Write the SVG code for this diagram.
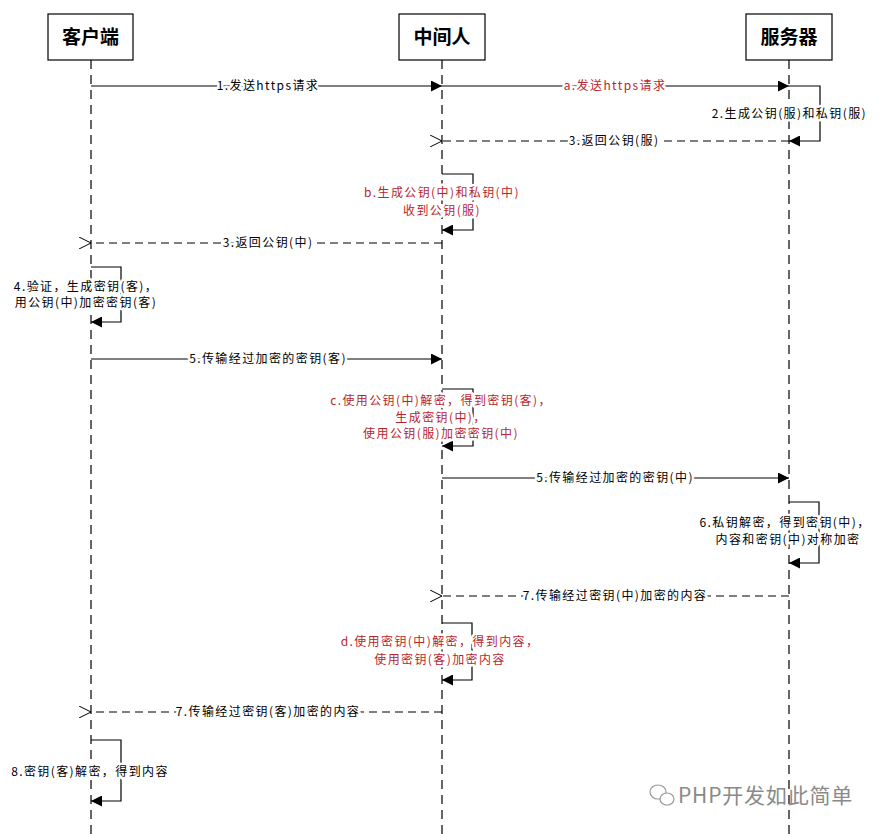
<svg xmlns="http://www.w3.org/2000/svg" width="882" height="834" viewBox="0 0 882 834">
<style>
.box{fill:#fff;stroke:#000;stroke-width:1.2}
.hdr{font-family:"Noto Sans CJK SC","Liberation Sans",sans-serif;font-size:19px;font-weight:bold;text-anchor:middle}
.life{stroke:#000;stroke-width:1.2;stroke-dasharray:9,6;fill:none}
.msg{stroke:#000;stroke-width:1.2;fill:none}
.ret{stroke:#000;stroke-width:1.2;stroke-dasharray:8,5;fill:none}
.lbl{font-family:"Noto Sans CJK SC","Liberation Sans",sans-serif;font-size:12px;letter-spacing:1.4px;fill:#000;text-anchor:middle;stroke:#fff;stroke-width:5;paint-order:stroke;stroke-linejoin:round}
.red{fill:#b8262c}
.wm{font-family:"Noto Sans CJK SC","Liberation Sans",sans-serif;font-size:21px;letter-spacing:0.8px;fill:#8a8a8a}
</style>
<defs>
<marker id="fa" viewBox="0 0 10 10" refX="10" refY="5" markerWidth="11" markerHeight="11" markerUnits="userSpaceOnUse" orient="auto"><path d="M0,0L10,5L0,10z" fill="#000"/></marker>
<marker id="oa" viewBox="0 0 12 12" refX="0" refY="6" markerWidth="12" markerHeight="12" markerUnits="userSpaceOnUse" orient="auto"><path d="M12,0L0,6L12,12" fill="none" stroke="#000" stroke-width="1"/></marker>
</defs>
<rect width="882" height="834" fill="#fff"/>
<g id="lifelines">
<line class="life" x1="91" y1="60" x2="91" y2="834"/>
<line class="life" x1="442" y1="60" x2="442" y2="834"/>
<line class="life" x1="789" y1="60" x2="789" y2="834"/>
</g>
<g id="client"><rect class="box" x="48" y="14" width="85" height="46"/><text class="hdr" x="90.5" y="44">客户端</text></g>
<g id="mitm"><rect class="box" x="399" y="14" width="86" height="46"/><text class="hdr" x="442" y="44">中间人</text></g>
<g id="server"><rect class="box" x="746" y="14" width="86" height="46"/><text class="hdr" x="789" y="44">服务器</text></g>
<g id="connectors">
<line class="msg" x1="91" y1="86" x2="442" y2="86" marker-end="url(#fa)"/>
<line class="msg" x1="442" y1="86" x2="789" y2="86" marker-end="url(#fa)"/>
<polyline class="msg" points="789,86 820,86 820,141 789,141" marker-end="url(#fa)"/>
<line class="ret" x1="789" y1="141" x2="442" y2="141" marker-end="url(#oa)"/>
<polyline class="msg" points="442,174 473,174 473,230 442,230" marker-end="url(#fa)"/>
<line class="ret" x1="442" y1="243" x2="91" y2="243" marker-end="url(#oa)"/>
<polyline class="msg" points="91,267 121,267 121,322 91,322" marker-end="url(#fa)"/>
<line class="msg" x1="91" y1="359" x2="442" y2="359" marker-end="url(#fa)"/>
<polyline class="msg" points="442,389 473,389 473,446 442,446" marker-end="url(#fa)"/>
<line class="msg" x1="442" y1="478" x2="789" y2="478" marker-end="url(#fa)"/>
<polyline class="msg" points="789,502 819,502 819,563 789,563" marker-end="url(#fa)"/>
<line class="ret" x1="789" y1="596" x2="442" y2="596" marker-end="url(#oa)"/>
<polyline class="msg" points="442,623 472,623 472,680 442,680" marker-end="url(#fa)"/>
<line class="ret" x1="442" y1="712" x2="91" y2="712" marker-end="url(#oa)"/>
<polyline class="msg" points="91,740 121,740 121,801 91,801" marker-end="url(#fa)"/>
</g>
<g id="labels">
<text class="lbl" x="268" y="90">1.发送https请求</text>
<text class="lbl red" x="615" y="90">a.发送https请求</text>
<text class="lbl" x="867" y="118" style="text-anchor:end">2.生成公钥(服)和私钥(服)</text>
<text class="lbl" x="614" y="145">3.返回公钥(服)</text>
<text class="lbl red" x="442" y="197">b.生成公钥(中)和私钥(中)</text>
<text class="lbl red" x="442" y="215">收到公钥(服)</text>
<text class="lbl" x="268" y="247">3.返回公钥(中)</text>
<text class="lbl" x="86" y="291">4.验证，生成密钥(客)，</text>
<text class="lbl" x="86" y="307">用公钥(中)加密密钥(客)</text>
<text class="lbl" x="268" y="363">5.传输经过加密的密钥(客)</text>
<text class="lbl red" x="441" y="405">c.使用公钥(中)解密，得到密钥(客)，</text>
<text class="lbl red" x="441" y="422">生成密钥(中)，</text>
<text class="lbl red" x="441" y="438">使用公钥(服)加密密钥(中)</text>
<text class="lbl" x="615" y="482">5.传输经过加密的密钥(中)</text>
<text class="lbl" x="785" y="527">6.私钥解密，得到密钥(中)，</text>
<text class="lbl" x="788" y="544">内容和密钥(中)对称加密</text>
<text class="lbl" x="615" y="600">7.传输经过密钥(中)加密的内容</text>
<text class="lbl red" x="440" y="646">d.使用密钥(中)解密，得到内容，</text>
<text class="lbl red" x="440" y="664">使用密钥(客)加密内容</text>
<text class="lbl" x="268" y="716">7.传输经过密钥(客)加密的内容</text>
<text class="lbl" x="90" y="776">8.密钥(客)解密，得到内容</text>
</g>
<g id="watermark">
<ellipse cx="658" cy="792" rx="8" ry="7" fill="none" stroke="#9a9a9a" stroke-width="1.2"/>
<ellipse cx="667" cy="799" rx="7" ry="6" fill="#fff" stroke="#9a9a9a" stroke-width="1.2"/>
<text class="wm" x="678" y="803">PHP开发如此简单</text>
</g>
</svg>
